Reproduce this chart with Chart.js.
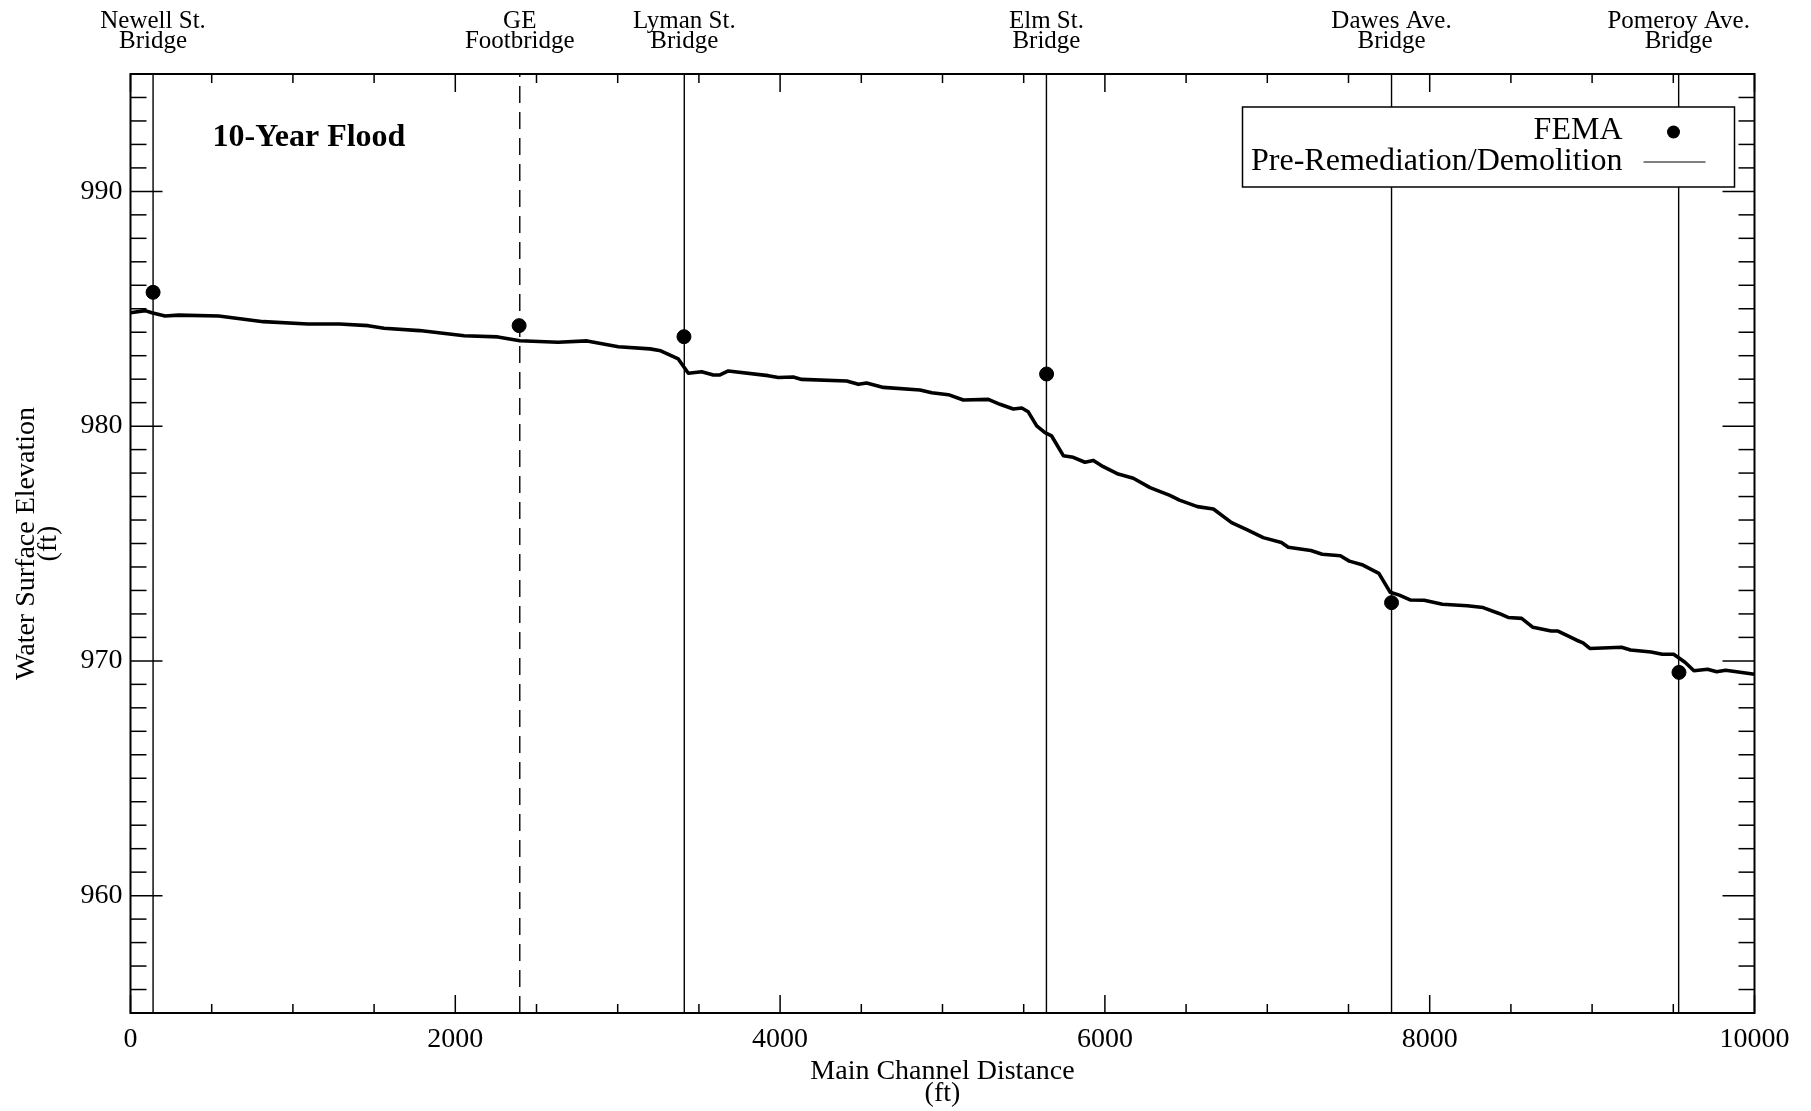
<!DOCTYPE html>
<html>
<head>
<meta charset="utf-8">
<script src="https://cdn.jsdelivr.net/npm/chart.js@4/dist/chart.umd.min.js"></script>
<style>
  html, body { margin: 0; background: #fff; }
</style>
</head>
<body>
<canvas id="chart" width="1811" height="1111"></canvas>
<script>
// water surface profile (main channel distance ft, elevation ft)
const profileX = [0, 90, 131, 213, 296, 543, 818, 1093, 1286, 1464, 1561, 1780, 2055, 2262, 2398, 2632, 2811, 3004, 3199, 3265,
  3373, 3435, 3517, 3589, 3630, 3681, 3927, 3989, 4081, 4133, 4410, 4482, 4533, 4636, 4861, 4934, 5036, 5128, 5282, 5354,
  5436, 5488, 5528, 5580, 5631, 5672, 5744, 5805, 5877, 5929, 5990, 6082, 6175, 6278, 6400, 6459, 6570, 6668, 6780, 6877,
  6975, 7087, 7129, 7268, 7338, 7450, 7505, 7589, 7687, 7757, 7813, 7883, 7966, 8078, 8231, 8329, 8427, 8483, 8566, 8636,
  8748, 8790, 8902, 8944, 8986, 9181, 9237, 9363, 9432, 9502, 9572, 9627, 9711, 9767, 9823, 10000];
const profileY = [984.83, 984.92, 984.83, 984.69, 984.73, 984.69, 984.45, 984.35, 984.35, 984.28, 984.17, 984.07, 983.85, 983.80, 983.64, 983.57, 983.63, 983.38, 983.29, 983.21,
  982.86, 982.25, 982.32, 982.18, 982.18, 982.35, 982.15, 982.07, 982.09, 981.99, 981.92, 981.78, 981.84, 981.65, 981.54, 981.42, 981.34, 981.11, 981.14, 980.93,
  980.73, 980.77, 980.61, 980.01, 979.72, 979.58, 978.74, 978.67, 978.46, 978.54, 978.27, 977.96, 977.78, 977.38, 977.05, 976.85, 976.57, 976.47, 975.89, 975.58,
  975.25, 975.04, 974.84, 974.70, 974.54, 974.48, 974.25, 974.08, 973.73, 972.92, 972.80, 972.59, 972.58, 972.41, 972.35, 972.27, 972.02, 971.85, 971.81, 971.43,
  971.27, 971.27, 970.89, 970.77, 970.53, 970.58, 970.46, 970.38, 970.28, 970.28, 969.94, 969.58, 969.64, 969.54, 969.60, 969.43];

// FEMA points
const femaX = [139, 2393, 3408, 5641, 7765, 9535];
const femaY = [985.70, 984.28, 983.81, 982.22, 972.48, 969.51];

// bridges
const bridgeX = [139, 2397, 3410, 5640, 7765, 9533];
const bridgeNames = [['Newell St.', 'Bridge'], ['GE', 'Footbridge'], ['Lyman St.', 'Bridge'],
  ['Elm St.', 'Bridge'], ['Dawes Ave.', 'Bridge'], ['Pomeroy Ave.', 'Bridge']];

// axes
const xTicks = [0, 2000, 4000, 6000, 8000, 10000];
const yTicks = [960, 970, 980, 990];
const xMin = 0, xMax = 10000, yMin = 955, yMax = 995;
const xMinorStep = 500, yMinorStep = 1;

const serif = "'Liberation Serif', 'Times New Roman', serif";
Chart.defaults.font.family = serif;
Chart.defaults.color = '#000';

const bridgeSets = bridgeX.map((bx, i) => ({
  data: [{x: bx, y: yMin}, {x: bx, y: yMax}],
  showLine: true,
  borderColor: '#000',
  borderWidth: 1.4,
  borderDash: bridgeNames[i][0] === 'GE' ? [17, 9] : [],
  pointRadius: 0,
  order: 3
}));

// frame, inward ticks, panel title and legend
const framePlugin = {
  id: 'frame',
  afterDatasetsDraw(chart) {
    const {ctx, chartArea: a, scales: {x, y}} = chart;
    ctx.save();
    ctx.strokeStyle = '#000';
    ctx.lineWidth = 1.5;
    const seg = (x1, y1, x2, y2) => { ctx.beginPath(); ctx.moveTo(x1, y1); ctx.lineTo(x2, y2); ctx.stroke(); };
    for (let v = xMin; v <= xMax; v += xMinorStep) {
      const px = x.getPixelForValue(v);
      const len = xTicks.includes(v) ? 18 : 9;
      seg(px, a.bottom, px, a.bottom - len);
      seg(px, a.top, px, a.top + len);
    }
    for (let v = yMin; v <= yMax; v += yMinorStep) {
      const py = y.getPixelForValue(v);
      const len = yTicks.includes(v) ? 32 : 16;
      seg(a.left, py, a.left + len, py);
      seg(a.right, py, a.right - len, py);
    }
    ctx.lineWidth = 2;
    ctx.strokeRect(a.left, a.top, a.right - a.left, a.bottom - a.top);

    // panel title
    ctx.fillStyle = '#000';
    ctx.font = 'bold 32px ' + serif;
    ctx.textAlign = 'left';
    ctx.textBaseline = 'alphabetic';
    ctx.fillText('10-Year Flood', a.left + 82, a.top + 72);

    // legend box
    const bx = a.right - 512, by = a.top + 33, bw = 492, bh = 80;
    ctx.fillStyle = '#fff';
    ctx.fillRect(bx, by, bw, bh);
    ctx.lineWidth = 1.5;
    ctx.strokeRect(bx, by, bw, bh);
    ctx.fillStyle = '#000';
    ctx.font = '32px ' + serif;
    ctx.textAlign = 'right';
    ctx.fillText('FEMA', bx + 380, by + 32);
    ctx.fillText('Pre-Remediation/Demolition', bx + 380, by + 63);
    ctx.beginPath();
    ctx.arc(bx + 431, by + 25, 6.5, 0, Math.PI * 2);
    ctx.fill();
    ctx.lineWidth = 1.2;
    seg(bx + 401, by + 55, bx + 463, by + 55);
    ctx.restore();
  }
};

new Chart(document.getElementById('chart'), {
  type: 'scatter',
  data: {
    datasets: [
      {
        label: 'Pre-Remediation/Demolition',
        data: profileX.map((v, i) => ({x: v, y: profileY[i]})),
        showLine: true,
        borderColor: '#000',
        borderWidth: 3.6,
        borderJoinStyle: 'round',
        pointRadius: 0,
        order: 2
      },
      {
        label: 'FEMA',
        data: femaX.map((v, i) => ({x: v, y: femaY[i]})),
        showLine: false,
        backgroundColor: '#000',
        borderColor: '#000',
        pointRadius: 7,
        order: 1
      },
      ...bridgeSets
    ]
  },
  options: {
    responsive: false,
    animation: false,
    layout: {padding: {left: 0, right: 56.5, top: 0, bottom: 0}},
    plugins: {legend: {display: false}, tooltip: {enabled: false}},
    scales: {
      x: {
        type: 'linear', position: 'bottom', min: xMin, max: xMax,
        afterBuildTicks: ax => { ax.ticks = xTicks.map(v => ({value: v})); },
        afterFit: ax => { ax.height = 98; },
        grid: {display: false, drawTicks: false},
        border: {display: false},
        ticks: {font: {size: 28}, padding: 10, maxRotation: 0, autoSkip: false, callback: v => String(v)},
        title: {display: true, text: ['Main Channel Distance', '(ft)'], font: {size: 28, lineHeight: 0.8}, padding: {top: 0, bottom: 6}}
      },
      bridges: {
        type: 'linear', position: 'top', min: xMin, max: xMax,
        afterBuildTicks: ax => { ax.ticks = bridgeX.map(v => ({value: v})); },
        afterFit: ax => { ax.height = 74; },
        grid: {display: false, drawTicks: false},
        border: {display: false},
        ticks: {font: {size: 25, lineHeight: 0.8}, padding: 23, maxRotation: 0, autoSkip: false,
          callback: (v, i) => bridgeNames[i]}
      },
      y: {
        type: 'linear', position: 'left', min: yMin, max: yMax,
        afterBuildTicks: ax => { ax.ticks = yTicks.map(v => ({value: v})); },
        afterFit: ax => { ax.width = 130.5; },
        grid: {display: false, drawTicks: false},
        border: {display: false},
        ticks: {font: {size: 28}, padding: 8, callback: v => String(v)},
        title: {display: true, text: ['Water Surface Elevation', '(ft)'], font: {size: 28, lineHeight: 0.8}, padding: {top: 15, bottom: 0}}
      }
    }
  },
  plugins: [framePlugin]
});
</script>
</body>
</html>
